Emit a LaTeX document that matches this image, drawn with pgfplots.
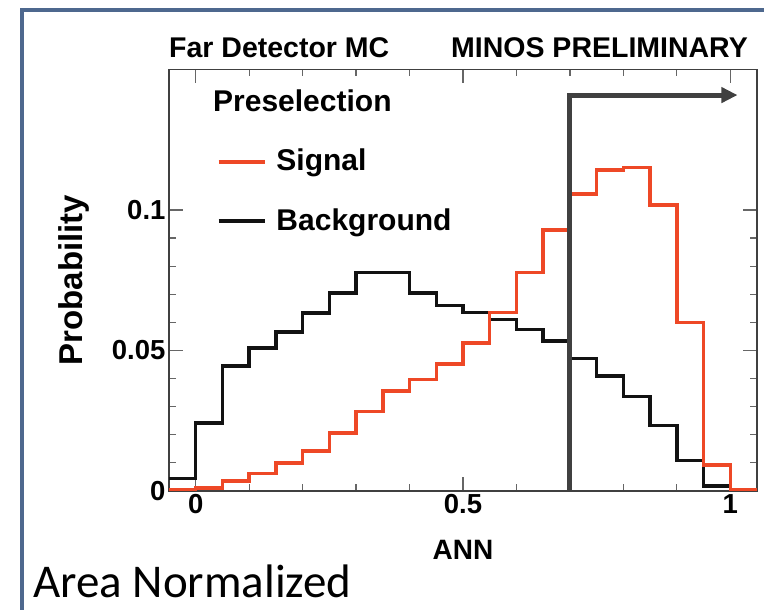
\documentclass[border=0pt]{standalone}
\usepackage{pgfplots}
\pgfplotsset{compat=1.18}
\usepackage{fontspec}
\setmainfont{Liberation Sans}
\newfontfamily\carlito{Carlito}
\usetikzlibrary{arrows.meta}
\definecolor{sigred}{RGB}{238,72,38}
\definecolor{frameblue}{RGB}{78,104,142}
\definecolor{arrowgray}{RGB}{64,64,64}
\begin{document}
\begin{tikzpicture}[x=1pt,y=1pt]
\useasboundingbox (0,0) rectangle (764,610);
\draw[frameblue, line width=3.5pt] (22,-5) -- (22,600) -- (770,600);
\node[anchor=base west, inner sep=0pt, font=\carlito\fontsize{47}{50}\selectfont] at (33,12) {Area Normalized};
\begin{axis}[
  at={(169pt,119pt)}, anchor=south west,
  width=588pt, height=421.5pt, scale only axis,
  xmin=-0.05, xmax=1.05, ymin=0, ymax=0.15,
  xtick={0,0.5,1}, xticklabels={0,0.5,1},
  ytick={0,0.05,0.1}, yticklabels={0,0.05,0.1},
  minor x tick num=4, minor y tick num=4,
  tick align=inside,
  major tick length=14pt, minor tick length=7pt,
  axis line style={draw=black!75, line width=1.3pt},
  every tick/.style={black!60, line width=1.2pt},
  ticklabel style={font=\fontsize{27.5}{30}\selectfont\bfseries},
  xlabel={ANN},
  xlabel style={at={(axis description cs:0.5,-0.1637)}, anchor=base, inner sep=0pt, font=\fontsize{28}{30}\selectfont\bfseries},
  ylabel={Probability},
  ylabel style={at={(axis description cs:-0.1344,0.5)}, anchor=south, inner sep=0pt, font=\fontsize{33}{36}\selectfont\bfseries},
  clip mode=individual,
  reverse legend,
  legend cell align=left,
  legend image code/.code={\draw[#1] (0pt,-1pt) -- (46pt,-1pt);},
  legend style={at={(axis description cs:0.0816,0.811)}, anchor=north west, draw=none, fill=none, inner sep=0pt, outer sep=0pt,
    nodes={inner sep=0pt, font=\fontsize{30}{34}\selectfont\bfseries}, column sep=10pt, row sep=36pt},
]
\addplot[const plot, black!93, line width=3.5pt] coordinates {
(-0.05,0.0044) (0,0.0242) (0.05,0.0444) (0.1,0.0509) (0.15,0.0566) (0.2,0.0633)
(0.25,0.0705) (0.3,0.0777) (0.35,0.0777) (0.4,0.0704) (0.45,0.0660) (0.5,0.0635)
(0.55,0.0610) (0.6,0.0575) (0.65,0.0534) (0.7,0.0472) (0.75,0.0410) (0.8,0.0336)
(0.85,0.0233) (0.9,0.0109) (0.95,0.0018) (1.0,0.0) (1.05,0.0)};
\addlegendentry{Background}
\addplot[const plot, sigred, line width=3.5pt] coordinates {
(-0.05,0.0005) (0,0.0010) (0.05,0.0035) (0.1,0.0063) (0.15,0.0099) (0.2,0.0143)
(0.25,0.0206) (0.3,0.0283) (0.35,0.0355) (0.4,0.0396) (0.45,0.0452) (0.5,0.0526)
(0.55,0.0636) (0.6,0.0778) (0.65,0.0929) (0.7,0.1057) (0.75,0.1142) (0.8,0.1151)
(0.85,0.1017) (0.9,0.0599) (0.95,0.0093) (1.0,0.0005) (1.05,0.0005)};
\addlegendentry{Signal}
\addplot[forget plot, arrowgray, line width=5pt, miter limit=10, -{Triangle[length=16pt,width=15pt]}] coordinates {(0.7,0) (0.7,0.1409) (1.0135,0.1409)};
\node[anchor=base west, inner sep=0pt, font=\fontsize{30}{34}\selectfont\bfseries] at (axis description cs:0.0748,0.8992) {Preselection};
\node[anchor=base west, inner sep=0pt, font=\fontsize{28.5}{32}\selectfont\bfseries] at (axis description cs:0,1.0285) {Far Detector MC};
\node[anchor=base east, inner sep=0pt, font=\fontsize{28.5}{32}\selectfont\bfseries] at (axis description cs:0.9847,1.0285) {MINOS PRELIMINARY};
\end{axis}
\end{tikzpicture}
\end{document}
